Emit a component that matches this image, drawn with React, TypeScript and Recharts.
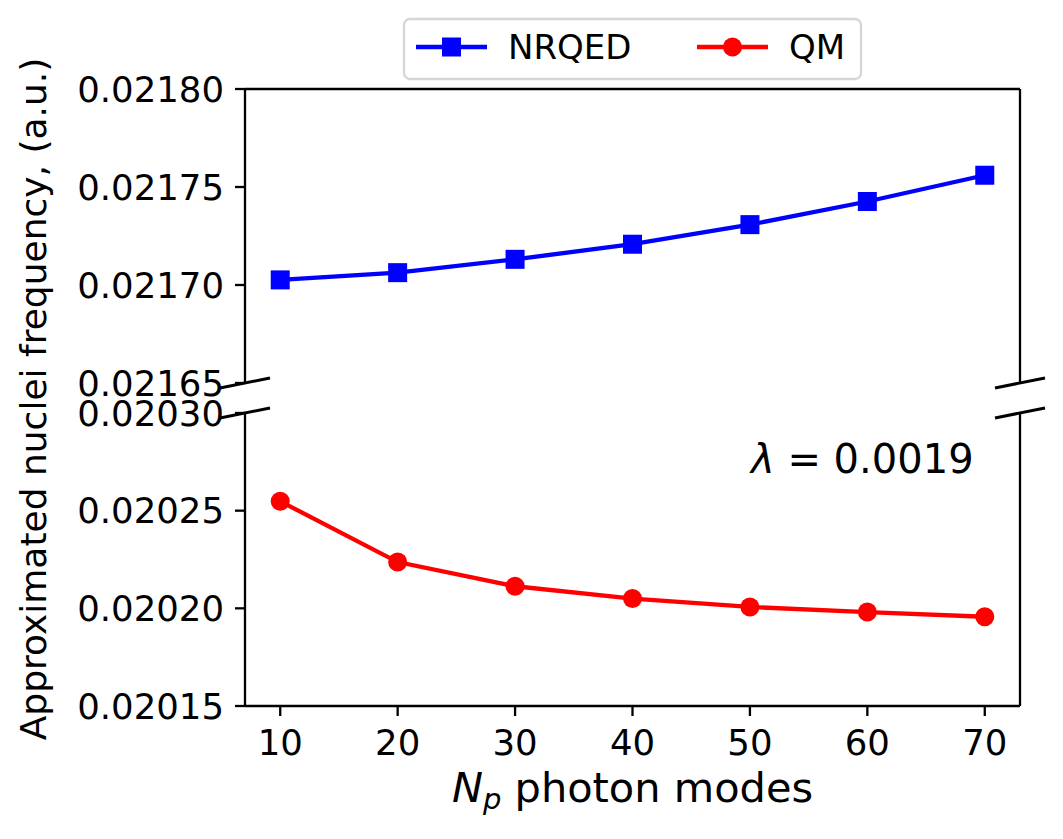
import { LineChart, Line, XAxis, YAxis, ReferenceLine } from 'recharts';

// photon modes on the x axis
const modes = [10, 20, 30, 40, 50, 60, 70];
// approximated nuclei frequency (a.u.)
const nrqed = [0.0217026, 0.0217063, 0.0217131, 0.0217208, 0.0217308, 0.0217426, 0.021756];
const qm = [0.0202548, 0.0202237, 0.0202113, 0.020205, 0.0202007, 0.0201981, 0.0201957];

const xTicks = [10, 20, 30, 40, 50, 60, 70];
const topTicks = [0.02165, 0.0217, 0.02175, 0.0218];
const bottomTicks = [0.02015, 0.0202, 0.02025, 0.0203];

const series = [
  { name: 'NRQED', color: '#0000ff', marker: 'square' },
  { name: 'QM', color: '#ff0000', marker: 'circle' }
];

const data = modes.map((n, i) => ({ n, nrqed: nrqed[i], qm: qm[i] }));

const W = 1063;
const H = 839;
const FONT = 'DejaVu Sans';
const SPINE = 2.3;
const LINE = 4.3;

const tickStyle = { fill: '#000', fontSize: 35.5, fontFamily: FONT };
const fmt = (v: number) => v.toFixed(5);

function SquareDot(props: any) {
  const { cx, cy, index } = props;
  if (cx == null || cy == null) return null;
  return <rect key={`sq-${index}`} x={cx - 9.5} y={cy - 9.5} width={19} height={19} fill="#0000ff" />;
}

function XLabel(props: any) {
  const vb = props.viewBox;
  return (
    <text x={vb.x + vb.width / 2} y={vb.y + 96} textAnchor="middle" fontSize={41.5} fontFamily={FONT} fill="#000">
      <tspan fontStyle="italic">N</tspan>
      <tspan fontStyle="italic" fontSize={29} dy={7}>p</tspan>
      <tspan dy={-7}> photon modes</tspan>
    </text>
  );
}

function BreakMark({ x, y }: { x: number; y: number }) {
  return <line x1={x - 25} y1={y + 5} x2={x + 25} y2={y - 5} stroke="#000" strokeWidth={3} />;
}

export default function App() {
  return (
    <div style={{ position: 'absolute', left: 0, top: 0, width: W, height: H, background: '#fff', fontFamily: FONT }}>
      <div style={{ position: 'absolute', left: 0, top: 0 }}>
        <LineChart width={W} height={H} data={data} margin={{ top: 89, right: 43, bottom: H - 383, left: 0 }}>
          <XAxis dataKey="n" type="number" domain={[7, 73]} allowDataOverflow hide />
          <YAxis
            type="number"
            domain={[0.02165, 0.0218]}
            allowDataOverflow
            ticks={topTicks}
            tickFormatter={fmt}
            width={245}
            tick={tickStyle}
            tickSize={10}
            tickMargin={11}
            axisLine={{ stroke: '#000', strokeWidth: SPINE }}
            tickLine={{ stroke: '#000', strokeWidth: SPINE }}
          />
          <ReferenceLine y={0.0218} stroke="#000" strokeWidth={SPINE} />
          <ReferenceLine x={73} stroke="#000" strokeWidth={SPINE} />
          <Line
            dataKey="nrqed"
            stroke="#0000ff"
            strokeWidth={LINE}
            dot={SquareDot}
            activeDot={false}
            isAnimationActive={false}
          />
        </LineChart>
      </div>
      <div style={{ position: 'absolute', left: 0, top: 0 }}>
        <LineChart width={W} height={H} data={data} margin={{ top: 413, right: 43, bottom: 0, left: 0 }}>
          <XAxis
            dataKey="n"
            type="number"
            domain={[7, 73]}
            allowDataOverflow
            ticks={xTicks}
            height={133}
            tick={tickStyle}
            tickSize={10}
            tickMargin={14}
            axisLine={{ stroke: '#000', strokeWidth: SPINE }}
            tickLine={{ stroke: '#000', strokeWidth: SPINE }}
            label={{ content: XLabel }}
          />
          <YAxis
            type="number"
            domain={[0.02015, 0.0203]}
            allowDataOverflow
            ticks={bottomTicks}
            tickFormatter={fmt}
            width={245}
            tick={tickStyle}
            tickSize={10}
            tickMargin={11}
            axisLine={{ stroke: '#000', strokeWidth: SPINE }}
            tickLine={{ stroke: '#000', strokeWidth: SPINE }}
          />
          <ReferenceLine x={73} stroke="#000" strokeWidth={SPINE} />
          <Line
            dataKey="qm"
            stroke="#ff0000"
            strokeWidth={LINE}
            dot={{ r: 9.5, fill: '#ff0000', stroke: 'none' }}
            activeDot={false}
            isAnimationActive={false}
          />
        </LineChart>
      </div>
      <svg width={W} height={H} style={{ position: 'absolute', left: 0, top: 0, pointerEvents: 'none' }}>
        {/* broken axis marks */}
        <BreakMark x={245} y={383} />
        <BreakMark x={245} y={413} />
        <BreakMark x={1020} y={383} />
        <BreakMark x={1020} y={413} />

        {/* legend */}
        <rect x={404} y={19} width={457} height={60} rx={6} fill="#fff" stroke="#d6d6d6" strokeWidth={SPINE} />
        {series.map((s, i) => {
          const x0 = i === 0 ? 416 : 697;
          return (
            <g key={s.name}>
              <line x1={x0} y1={47} x2={x0 + 71} y2={47} stroke={s.color} strokeWidth={LINE} />
              {s.marker === 'square' ? (
                <rect x={x0 + 26} y={37.5} width={19} height={19} fill={s.color} />
              ) : (
                <circle cx={x0 + 35.5} cy={47} r={9.5} fill={s.color} />
              )}
              <text x={x0 + 92} y={59} fontSize={34} fontFamily={FONT} fill="#000">
                {s.name}
              </text>
            </g>
          );
        })}

        {/* y axis title */}
        <text
          x={46}
          y={399}
          transform="rotate(-90, 46, 399)"
          textAnchor="middle"
          fontSize={36}
          fontFamily={FONT}
          fill="#000"
        >
          Approximated nuclei frequency, (a.u.)
        </text>

        {/* coupling annotation */}
        <text x={751} y={473} fontSize={40} fontFamily={FONT} fill="#000">
          <tspan fontStyle="italic">λ</tspan>
          <tspan> = 0.0019</tspan>
        </text>
      </svg>
    </div>
  );
}
